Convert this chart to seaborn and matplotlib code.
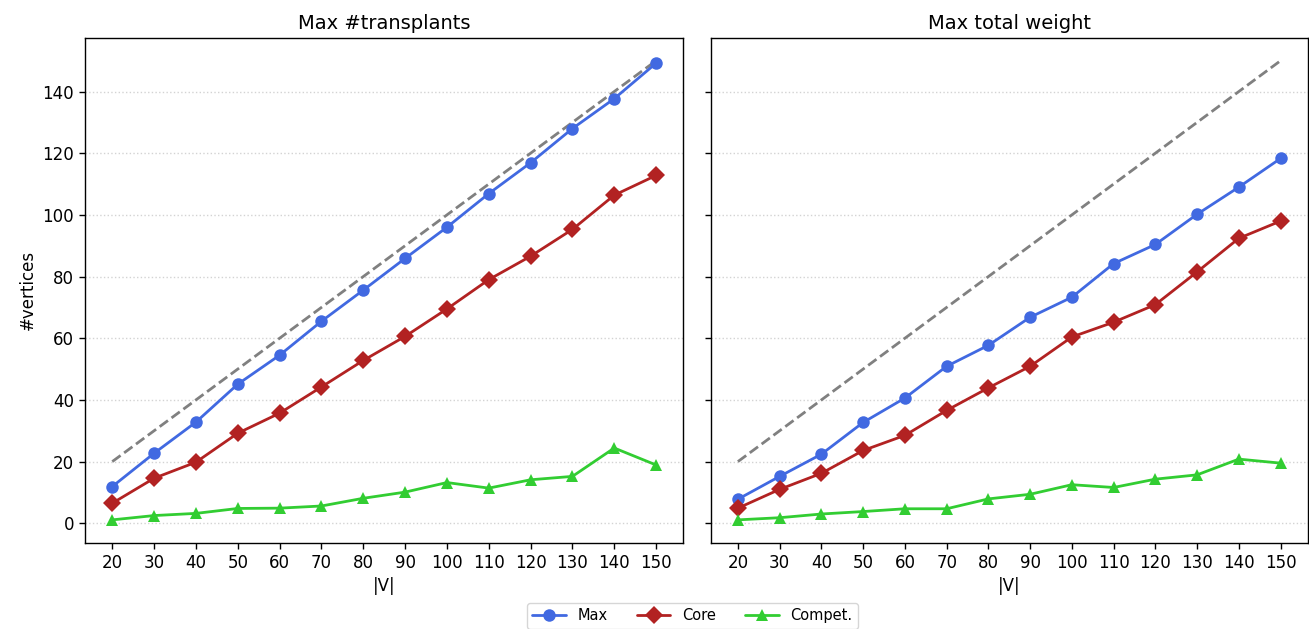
import matplotlib
matplotlib.use("Agg")
import matplotlib.pyplot as plt
import seaborn as sns
import pandas as pd

sizes = [20, 30, 40, 50, 60, 70, 80, 90, 100, 110, 120, 130, 140, 150]

trans_max = [11.9, 22.7, 32.8, 45.1, 54.5, 65.5, 75.6, 85.9, 96.0, 106.9, 116.9, 128.0, 137.7, 149.2]
trans_core = [6.5, 14.6, 19.8, 29.2, 35.7, 44.2, 52.8, 60.6, 69.5, 79.0, 86.6, 95.3, 106.4, 112.8]
trans_compet = [1.1, 2.5, 3.2, 4.8, 4.9, 5.6, 8.1, 10.1, 13.2, 11.4, 14.1, 15.2, 24.4, 18.9]

weight_max = [7.8, 15.2, 22.4, 32.7, 40.6, 50.9, 57.7, 66.8, 73.3, 84.2, 90.4, 100.2, 109.0, 118.3]
weight_core = [4.9, 11.0, 16.2, 23.6, 28.5, 36.6, 43.9, 50.9, 60.4, 65.2, 70.9, 81.5, 92.4, 98.0]
weight_compet = [1.1, 1.8, 3.0, 3.8, 4.7, 4.7, 7.9, 9.4, 12.5, 11.6, 14.3, 15.7, 20.8, 19.5]

titles = ["Max #transplants", "Max total weight"]
series_names = ["Max", "Core", "Compet."]
colors = {"Max": "royalblue", "Core": "firebrick", "Compet.": "limegreen"}
markers = {"Max": "o", "Core": "D", "Compet.": "^"}

sns.set_theme(style="ticks")
plt.rcParams['font.family'] = ['DejaVu Sans']
plt.rcParams.update({
    "text.color": "black", "axes.labelcolor": "black",
    "xtick.color": "black", "ytick.color": "black",
    "axes.edgecolor": "black",
})

fig = plt.figure(figsize=(13.09, 6.29), dpi=100)
ax1 = fig.add_axes([0.065, 0.137, 0.457, 0.803])
ax2 = fig.add_axes([0.543, 0.137, 0.456, 0.803], sharey=ax1)

panels = [
    (ax1, [trans_max, trans_core, trans_compet]),
    (ax2, [weight_max, weight_core, weight_compet]),
]

for i, (ax, vals) in enumerate(panels):
    frames = []
    for name, v in zip(series_names, vals):
        frames.append(pd.DataFrame({"|V|": sizes, "val": v, "series": name}))
    df = pd.concat(frames, ignore_index=True)
    sns.lineplot(data=pd.DataFrame({"x": sizes, "y": sizes}), x="x", y="y", ax=ax,
                 color="gray", linestyle="--", linewidth=2, legend=False)
    sns.lineplot(data=df, x="|V|", y="val", hue="series", style="series",
                 palette=colors, markers=markers, dashes=False, markersize=9,
                 markeredgewidth=0, linewidth=2, ax=ax, legend=(i == 0))
    ax.set_title(titles[i], fontsize=14, color="black")
    ax.set_xticks(sizes)
    ax.tick_params(labelsize=12, colors="black", length=4.5, width=1)
    ax.set_xlabel("|V|", fontsize=12, color="black")
    ax.grid(axis="y", linestyle=":", color="lightgray", linewidth=1)
    for s in ax.spines.values():
        s.set_color("black")
        s.set_linewidth(1)

ax1.set_ylabel("#vertices", fontsize=12, color="black")
ax2.set_ylabel("")
ax2.tick_params(labelleft=False)
ax1.set_yticks([0, 20, 40, 60, 80, 100, 120, 140])

handles, labels = ax1.get_legend_handles_labels()
ax1.get_legend().remove()
leg = fig.legend(handles, labels, loc="lower center", ncol=3, fontsize=10.5,
                 bbox_to_anchor=(0.529, -0.012), frameon=True,
                 handlelength=2.3, columnspacing=2.0)
for t in leg.get_texts():
    t.set_color("black")

fig.savefig("out.png", dpi=100)
